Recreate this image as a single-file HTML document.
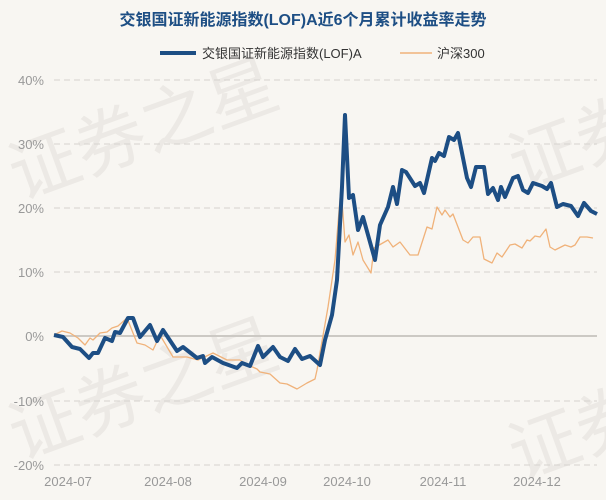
<!DOCTYPE html>
<html><head><meta charset="utf-8"><style>
html,body{margin:0;padding:0;background:#f8f6f2;}
svg{display:block;font-family:"Liberation Sans","Noto Sans CJK SC",sans-serif;}
</style></head><body>
<svg width="606" height="500" viewBox="0 0 606 500" xmlns="http://www.w3.org/2000/svg">
<rect width="606" height="500" fill="#f8f6f2"/>
<g fill="#e9e6e1" font-size="70" font-family="'Noto Sans CJK SC',sans-serif" opacity="0.8">
<text x="20" y="200" transform="rotate(-20 20 200)">证券之星</text>
<text x="20" y="460" transform="rotate(-20 20 460)">证券之星</text>
<text x="520" y="190" transform="rotate(-20 520 190)">证券</text>
<text x="520" y="480" transform="rotate(-20 520 480)">证券</text>
</g>
<text x="303" y="25" text-anchor="middle" font-size="16" font-weight="bold" fill="#1d4e84">交银国证新能源指数(LOF)A近6个月累计收益率走势</text>
<line x1="160" y1="53" x2="196" y2="53" stroke="#1d4e84" stroke-width="4"/>
<text x="202" y="58" font-size="13" fill="#333">交银国证新能源指数(LOF)A</text>
<line x1="400" y1="53" x2="432" y2="53" stroke="#f0b27a" stroke-width="1.5"/>
<text x="437" y="58" font-size="13" fill="#333">沪深300</text>
<g stroke="#d6d3ce" stroke-dasharray="6,4" stroke-width="1">
<line x1="54" y1="80" x2="597" y2="80"/><line x1="54" y1="144" x2="597" y2="144"/>
<line x1="54" y1="208" x2="597" y2="208"/><line x1="54" y1="272" x2="597" y2="272"/>
<line x1="54" y1="401" x2="597" y2="401"/><line x1="54" y1="465" x2="597" y2="465"/>
</g>
<line x1="54" y1="336" x2="597" y2="336" stroke="#ccc9c4" stroke-width="2"/>
<g font-size="13" fill="#999" text-anchor="end">
<text x="44" y="85">40%</text><text x="44" y="149">30%</text><text x="44" y="213">20%</text>
<text x="44" y="277">10%</text><text x="44" y="341">0%</text><text x="44" y="406">-10%</text><text x="44" y="470">-20%</text>
</g>
<g font-size="13" fill="#999" text-anchor="middle">
<text x="68" y="486">2024-07</text><text x="168" y="486">2024-08</text><text x="263" y="486">2024-09</text>
<text x="347" y="486">2024-10</text><text x="443" y="486">2024-11</text><text x="537" y="486">2024-12</text>
</g>
<polyline fill="none" stroke="#f0b27a" stroke-width="1.3" stroke-linejoin="round" points="54,335 62,331 70,333 78,338 85,345 90,338 93,340 100,333 107,332 112,328 118,326 127,318 137,343 145,345 153,350 160,335 173,357 187,357 198,360 213,353 227,360 240,360 248,365 257,369 260,372 270,374 280,383 287,384 297,389 307,383 315,379 317,370 328,307 335,260 341,187 345,242 349,235 353,255 358,242 363,260 371,273 374,248 388,240 393,247 400,242 410,255 418,255 427,227 432,229 437,207 442,215 445,210 450,217 453,214 463,240 468,243 473,237 480,237 484,259 492,263 497,253 502,257 510,245 515,244 522,248 527,240 530,241 535,236 540,237 546,229 550,247 555,250 565,245 571,247 575,245 580,237 587,237 593,238"/>
<polyline fill="none" stroke="#1d4e84" stroke-width="4" stroke-linejoin="round" points="54,335 63,337 72,347 80,349 89,358 93,353 98,353 105,338 112,341 115,332 120,333 128,318 133,318 140,337 150,325 157,341 163,330 177,351 183,347 197,358 203,356 205,363 212,357 223,363 237,368 242,363 250,366 258,346 263,357 273,347 280,357 288,361 295,349 302,359 310,356 320,365 325,340 332,315 337,280 342,187 345,115 349,198 353,195 358,230 363,217 375,260 380,225 388,207 393,187 397,204 402,170 406,172 415,186 420,183 424,193 432,158 435,161 439,153 444,156 449,137 454,140 458,133 467,178 471,187 476,167 484,167 488,194 493,188 498,200 501,187 505,197 513,178 518,176 523,190 528,193 533,183 542,186 547,189 551,183 557,207 563,204 571,206 578,216 584,203 591,211 597,214"/>
</svg>
</body></html>
